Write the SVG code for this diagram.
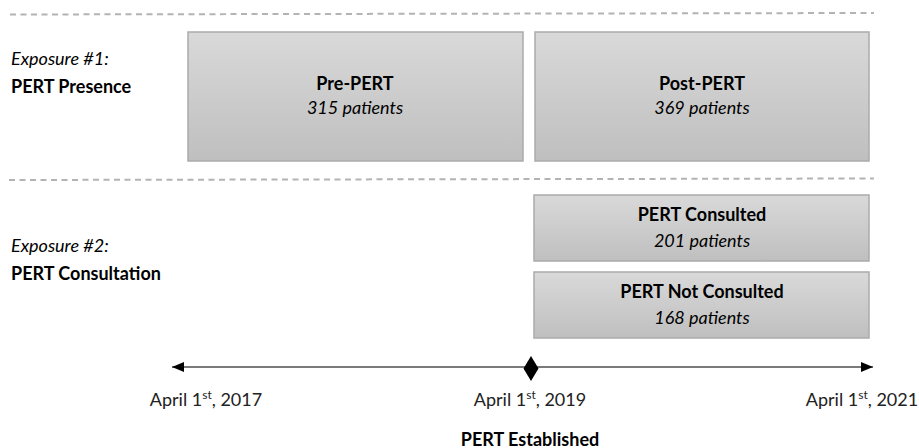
<svg xmlns="http://www.w3.org/2000/svg" width="919" height="448" viewBox="0 0 919 448">
<defs>
<linearGradient id="g" x1="0" y1="0" x2="0" y2="1">
<stop offset="0" stop-color="#d9d9d9"/>
<stop offset="1" stop-color="#bfbfbf"/>
</linearGradient>
<marker id="ah" viewBox="0 0 12 10" refX="12" refY="5" markerWidth="12" markerHeight="10" markerUnits="userSpaceOnUse" orient="auto-start-reverse">
<path d="M0,0 L12,5 L0,10 Z" fill="#000"/>
</marker>
</defs>
<style>
.box{fill:url(#g);stroke:#ababab;stroke-width:1.5}
.t{font-family:Lato,"Liberation Sans",sans-serif;font-size:18px;fill:#000}
.b{font-weight:bold}
.i{font-style:italic}
.c{text-anchor:middle}
.dash{stroke:#b3b3b3;stroke-width:2;stroke-dasharray:6 4.5;fill:none}
.d{fill:#222}
</style>
<g id="separators">
<line class="dash" x1="10" y1="14.5" x2="874" y2="13"/>
<line class="dash" x1="9" y1="180" x2="874" y2="178.5"/>
</g>
<g id="label1">
<text class="t i" x="11" y="65">Exposure #1:</text>
<text class="t b" x="11" y="93">PERT Presence</text>
</g>
<g id="label2">
<text class="t i" x="11" y="252">Exposure #2:</text>
<text class="t b" x="11" y="280">PERT Consultation</text>
</g>
<g id="pre">
<rect class="box" x="188" y="32" width="335" height="129"/>
<text class="t b c" x="355" y="90">Pre-PERT</text>
<text class="t i c" x="355" y="114">315 patients</text>
</g>
<g id="post">
<rect class="box" x="535" y="32" width="334" height="129"/>
<text class="t b c" x="702" y="90">Post-PERT</text>
<text class="t i c" x="702" y="114">369 patients</text>
</g>
<g id="consulted">
<rect class="box" x="534" y="195" width="335" height="66"/>
<text class="t b c" x="702" y="221">PERT Consulted</text>
<text class="t i c" x="702" y="247">201 patients</text>
</g>
<g id="notconsulted">
<rect class="box" x="534" y="272" width="335" height="66"/>
<text class="t b c" x="702" y="298">PERT Not Consulted</text>
<text class="t i c" x="702" y="324">168 patients</text>
</g>
<g id="connectors">
<line x1="172" y1="367" x2="873" y2="367" stroke="#7a7a7a" stroke-width="2" marker-start="url(#ah)" marker-end="url(#ah)"/>
</g>
<g id="milestone">
<path d="M531,356 L538.5,368.5 L531,381 L523.5,368.5 Z" fill="#000"/>
</g>
<g id="dates">
<text class="t d c" x="206" y="406">April 1<tspan font-size="12" dy="-7">st</tspan><tspan dy="7">, 2017</tspan></text>
<text class="t d c" x="530" y="406">April 1<tspan font-size="12" dy="-7">st</tspan><tspan dy="7">, 2019</tspan></text>
<text class="t d c" x="862" y="406">April 1<tspan font-size="12" dy="-7">st</tspan><tspan dy="7">, 2021</tspan></text>
<text class="t b c" x="530" y="446">PERT Established</text>
</g>
</svg>
